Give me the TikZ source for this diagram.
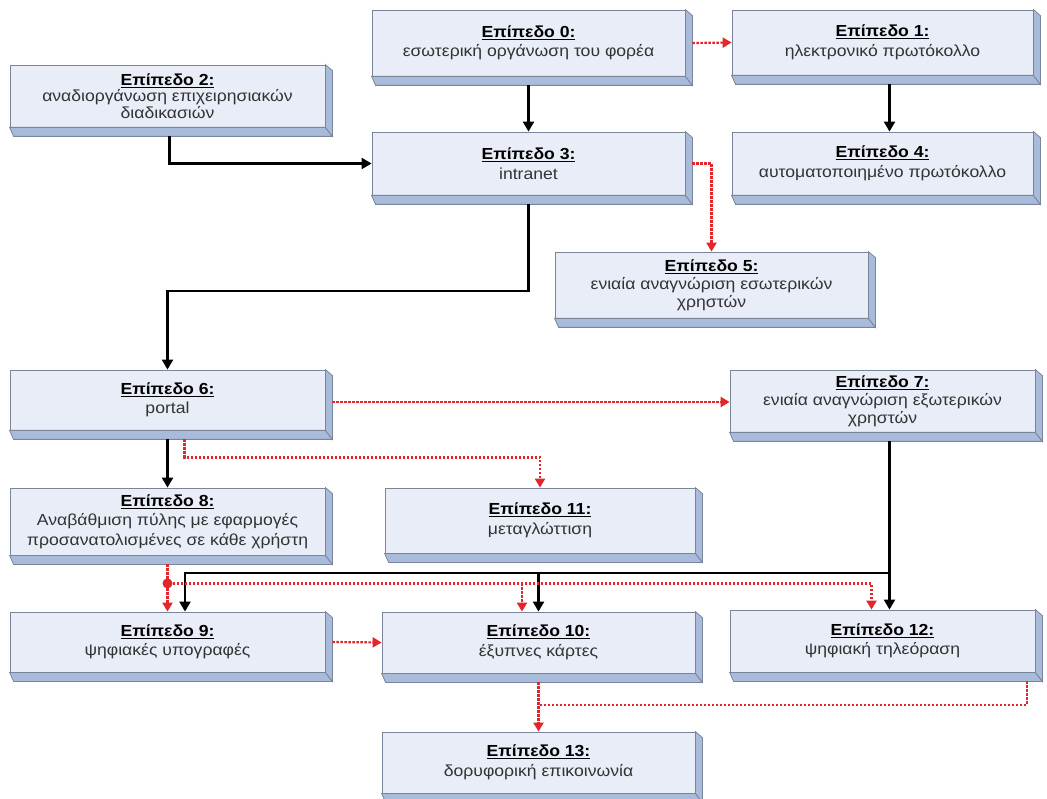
\documentclass[tikz,border=0pt]{standalone}
\usepackage{fontspec}
\setmainfont[FakeStretch=1.1]{Liberation Sans}
\usetikzlibrary{arrows.meta,calc}
\definecolor{face}{HTML}{E9EDF7}
\definecolor{bev}{HTML}{A9BBDA}
\definecolor{edge}{HTML}{7A8599}
\definecolor{txt}{HTML}{333333}
\definecolor{rdl}{HTML}{E3262B}
\newcommand\lvlhead[1]{{\color{black}\textbf{\underline{#1}}}}
\begin{document}
\begin{tikzpicture}[x=1pt,y=-1pt,
  box/.style={draw=edge, line width=0.8pt, fill=face, inner sep=0pt, align=center,
    text=txt, font=\fontsize{16}{19.5}\selectfont, minimum width=313pt, minimum height=63pt},
  bevel/.style={draw=edge, line width=0.8pt, fill=bev},
  blk/.style={draw=black, line width=2.2pt, -{Triangle[length=10pt,width=11pt]}},
  red/.style={draw=rdl, line width=2.2pt, dash pattern=on 2.5pt off 1.5pt, -{Triangle[length=9pt,width=10pt]}},
  redline/.style={draw=rdl, line width=2.2pt, dash pattern=on 2.5pt off 1.5pt},
  dot/.style={circle, fill=rdl, inner sep=0pt, minimum size=10pt}]
\useasboundingbox (0,0) rectangle (1047,799);
\fill[white] (0,0) rectangle (1047,799);

\node[box, minimum height=66pt] (b0) at (528.5,43) {\lvlhead{Επίπεδο 0:}\\εσωτερική οργάνωση του φορέα};
\node[box, minimum width=301pt, minimum height=65pt] (b1) at (882.5,42.5) {\lvlhead{Επίπεδο 1:}\\ηλεκτρονικό πρωτόκολλο};
\node[box, minimum width=315pt, minimum height=62pt, font=\fontsize{16}{16.5}\selectfont] (b2) at (167.5,96) {\lvlhead{Επίπεδο 2:}\\αναδιοργάνωση επιχειρησιακών\\διαδικασιών};
\node[box] (b3) at (528.5,163.5) {\lvlhead{Επίπεδο 3:}\\intranet};
\node[box, minimum width=301pt] (b4) at (882.5,163.5) {\lvlhead{Επίπεδο 4:}\\αυτοματοποιημένο πρωτόκολλο};
\node[box, minimum height=66pt, font=\fontsize{16}{18}\selectfont] (b5) at (711.5,285) {\lvlhead{Επίπεδο 5:}\\ενιαία αναγνώριση εσωτερικών\\χρηστών};
\node[box, minimum width=315pt, minimum height=60pt] (b6) at (167.5,400) {\lvlhead{Επίπεδο 6:}\\portal};
\node[box, minimum width=305pt, minimum height=62pt, font=\fontsize{16}{18}\selectfont] (b7) at (882.5,401) {\lvlhead{Επίπεδο 7:}\\ενιαία αναγνώριση εξωτερικών\\χρηστών};
\node[box, minimum width=315pt, minimum height=67pt] (b8) at (167.5,521.5) {\lvlhead{Επίπεδο 8:}\\Αναβάθμιση πύλης με εφαρμογές\\προσανατολισμένες σε κάθε χρήστη};
\node[box, minimum width=310pt, minimum height=65pt] (b11) at (540,520.5) {\lvlhead{Επίπεδο 11:}\\μεταγλώττιση};
\node[box, minimum width=315pt, minimum height=60pt] (b9) at (167.5,642) {\lvlhead{Επίπεδο 9:}\\ψηφιακές υπογραφές};
\node[box, minimum height=61pt] (b10) at (538.5,642.5) {\lvlhead{Επίπεδο 10:}\\έξυπνες κάρτες};
\node[box, minimum width=305pt, minimum height=62pt] (b12) at (882.5,641) {\lvlhead{Επίπεδο 12:}\\ψηφιακή τηλεόραση};
\node[box, minimum height=61pt] (b13) at (538.5,762.5) {\lvlhead{Επίπεδο 13:}\\δορυφορική επικοινωνία};

\foreach \n in {b0,b1,b2,b3,b4,b5,b6,b7,b8,b9,b10,b11,b12,b13}{
  \filldraw[bevel] (\n.south west) -- (\n.south east) -- ($(\n.south east)+(7,9)$) -- ($(\n.south west)+(4,9)$) -- cycle;
  \filldraw[bevel] (\n.north east) -- ($(\n.north east)+(7,6)$) -- ($(\n.south east)+(7,9)$) -- (\n.south east) -- cycle;
}

% black connectors
\draw[blk] ($(b0.south)+(0,9)$) -- (b3.north);
\draw[blk] ($(b1.south)+(7,9)$) -- ($(b4.north)+(7,0)$);
\draw[blk] ($(b2.south)+(2,9)$) |- (b3.west);
\draw[blk] ($(b3.south)+(0,9)$) -- ++(0,87) -| (b6.north);
\draw[blk] ($(b6.south)+(0,9)$) -- (b8.north);
\draw[blk] ($(b7.south)+(7,9)$) -- ($(b12.north)+(7,0)$);
\coordinate (tb) at (889.5,573);
\draw[blk] (tb) -| ($(b9.north)+(17.5,0)$);
\draw[blk] (tb -| b10.north) -- (b10.north);

% red dotted connectors
\draw[red] ($(b0.east)+(7,0)$) -- (b1.west);
\draw[red] ($(b3.east)+(7,0)$) -| (b5.north);
\draw[red] ($(b6.east)+(7,2)$) -- ($(b7.west)+(0,1)$);
\draw[red] ($(b6.south)+(17,9)$) -- ++(0,18) -| (b11.north);
\draw[red] ($(b8.south)+(0,9)$) -- (b9.north);
\node[dot] (rd) at ($(b8.south)+(0,28)$) {};
\draw[red] (rd) -| ($(b12.north)+(-11,0)$);
\draw[red] ($(rd -| b10.north)+(-16.5,0)$) -- ($(b10.north)+(-16.5,0)$);
\draw[red] ($(b9.east)+(7,0)$) -- (b10.west);
\draw[red] ($(b10.south)+(0,9)$) -- (b13.north);
\draw[redline] ($(b12.south)+(144.5,9)$) |- ($(b13.north)+(0,-27)$);
\end{tikzpicture}
\end{document}
